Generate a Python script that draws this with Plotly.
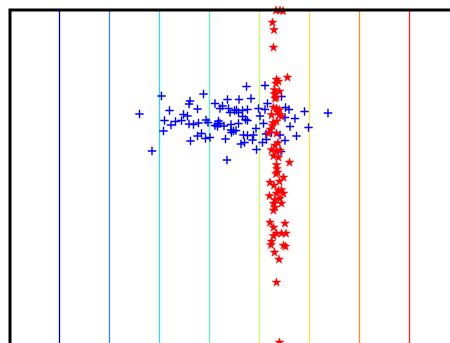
import plotly.graph_objects as go

# vertical reference lines (x positions) and their colours
line_x = [1, 2, 3, 4, 5, 6, 7, 8]
line_colors = ["#0000c0", "#3080ff", "#30d8ff", "#60f0c8", "#c8ff60", "#ffe040", "#ff8a20", "#ff2020"]
y_lo, y_hi = 0, 6.66

# blue "+" series
blue_x = [2.60, 3.04, 2.85, 3.88, 3.61, 3.59, 3.20, 3.76, 3.48, 3.56, 3.10, 3.32, 3.44, 3.23, 3.59,
          3.68, 3.78, 3.93, 3.97, 3.08, 3.76, 3.84, 3.92, 4.01, 3.62, 4.11, 4.26, 4.21, 4.36, 4.59,
          4.74, 4.38, 4.41, 4.50, 4.54, 4.58, 4.66, 4.76, 4.66, 4.72, 4.76, 4.18, 4.16, 4.21, 4.29,
          4.43, 4.58, 4.11, 4.16, 4.43, 4.48, 4.53, 4.44, 4.32, 4.68, 4.76, 4.63, 4.70, 4.35, 5.11,
          4.83, 5.16, 5.44, 4.98, 5.11, 5.52, 5.59, 5.90, 5.01, 5.51, 5.71, 4.93, 5.08, 5.61, 5.98,
          4.88, 5.13, 5.24, 5.41, 5.74, 4.86, 5.06, 5.14, 5.51, 4.94, 5.43, 6.37]
blue_y = [4.58, 4.94, 3.84, 4.98, 4.84, 4.78, 4.65, 4.68, 4.57, 4.54, 4.45, 4.43, 4.45, 4.36, 4.38,
          4.37, 4.40, 4.46, 4.41, 4.24, 4.14, 4.19, 4.09, 4.11, 4.04, 4.79, 4.74, 4.69, 4.87, 4.87,
          5.13, 4.69, 4.61, 4.65, 4.66, 4.61, 4.65, 4.67, 4.53, 4.47, 4.45, 4.44, 4.38, 4.39, 4.34,
          4.37, 4.39, 4.35, 4.33, 4.26, 4.24, 4.25, 4.21, 4.08, 4.16, 4.15, 3.98, 4.01, 3.66, 5.15,
          4.89, 4.79, 4.93, 4.69, 4.67, 4.71, 4.67, 4.63, 4.54, 4.51, 4.49, 4.29, 4.39, 4.33, 4.31,
          4.16, 4.18, 4.21, 4.16, 4.14, 4.06, 4.01, 4.07, 4.05, 3.87, 3.83, 4.60]

# red "*" series
red_x = [5.41, 5.33, 5.47, 5.26, 5.29, 5.28, 5.56, 5.34, 5.38, 5.33, 5.30, 5.40, 5.31, 5.34, 5.28,
         5.34, 5.40, 5.24, 5.40, 5.44, 5.34, 5.26, 5.22, 5.18, 5.34, 5.24, 5.34, 5.41, 5.28, 5.38,
         5.60, 5.34, 5.33, 5.36, 5.48, 5.21, 5.40, 5.38, 5.44, 5.34, 5.48, 5.20, 5.41, 5.31, 5.28,
         5.44, 5.31, 5.28, 5.21, 5.51, 5.28, 5.34, 5.44, 5.28, 5.53, 5.24, 5.23, 5.48, 5.52, 5.30,
         5.39, 5.34, 5.40, 5.30, 5.36, 5.27, 5.37, 5.31, 5.35, 5.29]
red_y = [6.65, 6.65, 6.64, 6.41, 6.26, 5.91, 5.31, 5.27, 5.23, 5.19, 5.06, 5.03, 4.89, 4.91, 4.71,
         4.69, 4.66, 4.56, 4.56, 4.53, 4.43, 4.34, 4.27, 4.19, 4.19, 3.86, 3.83, 3.85, 3.74, 3.71,
         3.61, 3.56, 3.38, 3.41, 3.31, 3.21, 3.23, 3.05, 3.06, 2.99, 2.99, 2.94, 2.89, 2.86, 2.79,
         2.79, 2.71, 2.65, 2.41, 2.39, 2.31, 2.19, 2.19, 2.14, 2.19, 2.03, 1.96, 1.95, 1.93, 1.81,
         1.67, 1.21, 0.01, 4.98, 4.62, 4.40, 4.00, 3.95, 3.48, 3.15]

fig = go.Figure()

for xv, c in zip(line_x, line_colors):
    fig.add_trace(go.Scatter(x=[xv, xv], y=[y_lo - 1, y_hi + 1], mode="lines",
                             line=dict(color=c, width=1.3), showlegend=False, hoverinfo="skip"))

fig.add_trace(go.Scatter(x=blue_x, y=blue_y, mode="markers",
                         marker=dict(symbol="cross-thin-open", size=6, color="#0000ff",
                                     line=dict(color="#0000ff", width=1.4)),
                         showlegend=False, hoverinfo="skip"))
fig.add_trace(go.Scatter(x=red_x, y=red_y, mode="markers",
                         marker=dict(symbol="star", size=6.5, color="#ff0000",
                                     line=dict(color="#ff0000", width=0.5)),
                         showlegend=False, hoverinfo="skip", cliponaxis=False))

# axes frame (left and top edges visible; rest falls outside the view)
shapes = [dict(type="rect", xref="paper", yref="paper", x0=0, x1=1.05, y0=-0.05, y1=1,
               line=dict(color="black", width=3), layer="above")]

fig.update_layout(
    width=450, height=343,
    margin=dict(l=10, r=0, t=10, b=0),
    paper_bgcolor="white", plot_bgcolor="white",
    shapes=shapes,
    xaxis=dict(range=[0.01, 8.81], showgrid=False, zeroline=False, showticklabels=False,
               ticks="", showline=False),
    yaxis=dict(range=[y_lo, y_hi], showgrid=False, zeroline=False, showticklabels=False,
               ticks="", showline=False),
)

fig.write_html("out.html")
